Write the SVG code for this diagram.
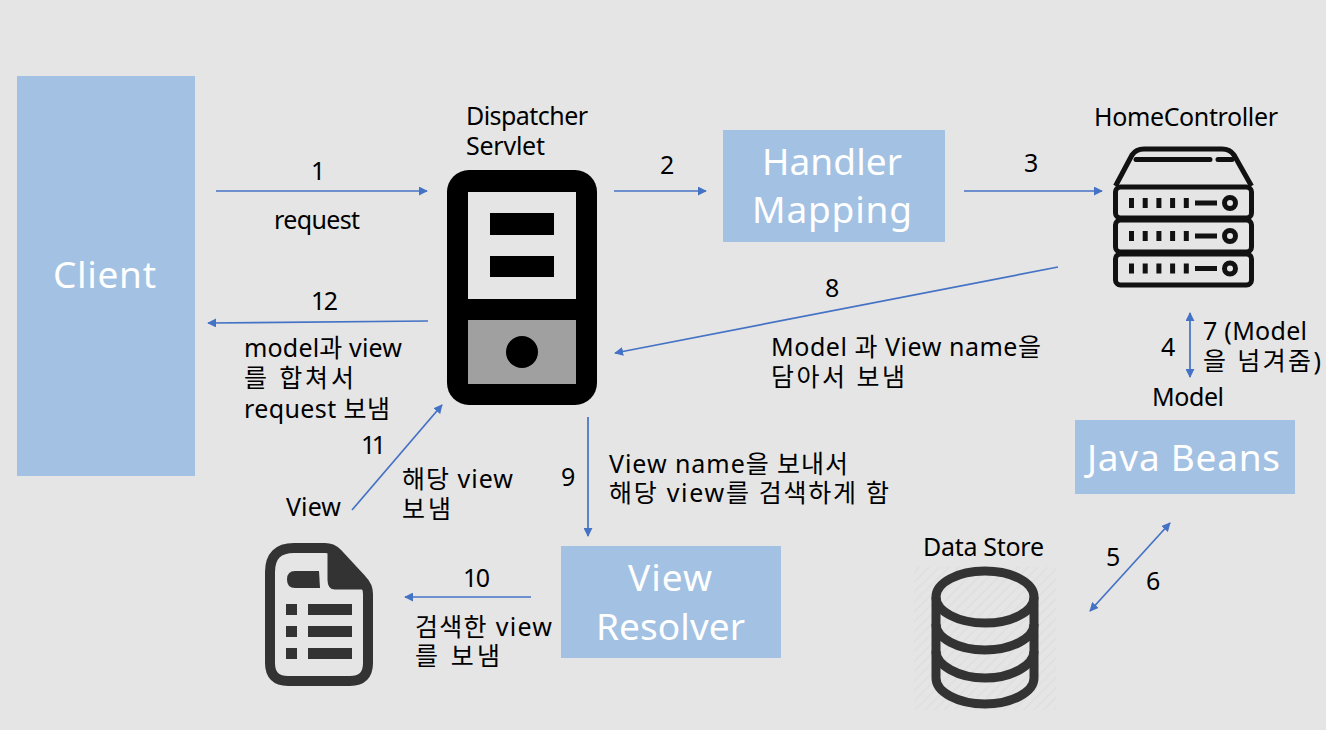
<svg xmlns="http://www.w3.org/2000/svg" width="1326" height="730" viewBox="0 0 1326 730">
<style>
text{font-family:"Noto Sans","Noto Sans CJK KR",sans-serif;fill:#000;font-size:25px}
.w{fill:#fff;font-size:37px}
.box{fill:#a3c2e3}
.c{stroke:#4472c4;stroke-width:1.7;fill:none;marker-end:url(#a)}
.b{marker-start:url(#as)}
.srv{fill:none;stroke:#111;stroke-width:5;stroke-linejoin:round}
.dots{stroke:#111;stroke-width:10;stroke-dasharray:5 8.7;fill:none}
.ln{stroke:#111;stroke-width:5;fill:none}
.db{fill:none;stroke:#333;stroke-width:9}
</style>
<defs>
<marker id="a" viewBox="0 0 10 10" refX="9" refY="5" markerWidth="9" markerHeight="9" markerUnits="userSpaceOnUse" orient="auto"><path d="M0 0L10 5L0 10z" fill="#4472c4"/></marker>
<marker id="as" viewBox="0 0 10 10" refX="1" refY="5" markerWidth="9" markerHeight="9" markerUnits="userSpaceOnUse" orient="auto"><path d="M10 0L0 5L10 10z" fill="#4472c4"/></marker>
<pattern id="h" width="7" height="7" patternUnits="userSpaceOnUse" patternTransform="rotate(45)"><rect width="7" height="7" fill="#e5e5e5"/><rect width="2" height="7" fill="#e0e0e0"/></pattern>
</defs>
<rect width="1326" height="730" fill="#e5e5e5"/>

<g id="client"><rect class="box" x="17" y="76" width="178" height="400"/><text class="w" x="53" y="288" textLength="103">Client</text></g>

<g id="dispatcher">
<text><tspan x="466" y="125" textLength="122">Dispatcher</tspan><tspan x="466" y="155" textLength="79">Servlet</tspan></text>
<rect x="447" y="170" width="150" height="235" rx="22" fill="#000"/>
<rect x="468" y="192" width="108" height="107" fill="#e5e5e5"/>
<rect x="490" y="213" width="64" height="22" fill="#000"/>
<rect x="490" y="256" width="64" height="21" fill="#000"/>
<rect x="468" y="320" width="108" height="64" fill="#a0a0a0"/>
<circle cx="522" cy="352" r="16" fill="#000"/>
</g>

<g id="handler"><rect class="box" x="723" y="130" width="222" height="112"/><text class="w"><tspan x="762" y="175" textLength="140">Handler</tspan><tspan x="752" y="223" textLength="160">Mapping</tspan></text></g>

<g id="home">
<text x="1094" y="126" textLength="184">HomeController</text>
<path class="srv" d="M1115.500 186L1132 155Q1136 149 1144 149H1222Q1230 149 1234 155L1251.500 186"/>
<path class="ln" d="M1136 159.500H1210M1218 159.500H1232" stroke-linecap="round"/>
<rect class="srv" x="1115.500" y="187" width="136" height="31" rx="5"/>
<rect class="srv" x="1115.500" y="220" width="136" height="32" rx="5"/>
<rect class="srv" x="1115.500" y="254" width="136" height="31" rx="5"/>
<path class="dots" d="M1129 203h60M1129 236h60M1129 268.500h60"/>
<path class="ln" d="M1195 203h22M1195 236h22M1195 268.500h22"/>
<circle class="srv" cx="1230" cy="203" r="5.500"/><circle class="srv" cx="1230" cy="236" r="5.500"/><circle class="srv" cx="1230" cy="268.500" r="5.500"/>
</g>

<g id="beans"><text x="1152" y="406" textLength="72">Model</text><rect class="box" x="1075" y="420" width="220" height="74"/><text class="w" x="1087" y="471" textLength="193">Java Beans</text></g>

<g id="resolver"><rect class="box" x="561" y="546" width="220" height="112"/><text class="w"><tspan x="628" y="591" textLength="84">View</tspan><tspan x="596" y="640" textLength="149">Resolver</tspan></text></g>

<g id="view">
<text x="286" y="516" textLength="55">View</text>
<path d="M270 572Q270 548 294 548H325Q332 548 337 553L362 580Q368 586 368 594V663Q368 681 350 681H288Q270 681 270 663Z" fill="none" stroke="#333" stroke-width="10" stroke-linejoin="round"/>
<path d="M329 548L368 588H335Q329 588 329 580Z" fill="#333" stroke="#333" stroke-width="3" stroke-linejoin="round"/>
<path d="M319 571H295Q287 571 287 579.500Q287 588 295 588H320Z" fill="#333"/>
<rect x="286" y="604" width="11" height="11" fill="#333"/><rect x="308" y="604" width="44" height="11" fill="#333"/>
<rect x="286" y="626" width="11" height="11" fill="#333"/><rect x="308" y="626" width="44" height="11" fill="#333"/>
<rect x="286" y="648" width="11" height="11" fill="#333"/><rect x="308" y="648" width="44" height="11" fill="#333"/>
</g>

<g id="datastore">
<text x="923" y="556" textLength="121">Data Store</text>
<rect x="914" y="567" width="142" height="143" fill="url(#h)"/>
<ellipse class="db" cx="985" cy="597" rx="49" ry="26"/>
<path class="db" d="M936 597V678C936 692 958 704 985 704S1034 692 1034 678V597"/>
<path class="db" d="M936 624C936 638 958 650 985 650S1034 638 1034 624M936 651C936 665 958 678 985 678S1034 665 1034 651"/>
</g>

<g id="connectors">
<path class="c" d="M216 191H427"/>
<path class="c" d="M614 191H706"/>
<path class="c" d="M964 191H1102"/>
<path class="c" d="M1058 267L615 353"/>
<path class="c" d="M428 321L208 323"/>
<path class="c b" d="M1190 313V377"/>
<path class="c b" d="M1170 523L1090 611"/>
<path class="c" d="M588 417V536"/>
<path class="c" d="M531 597H405"/>
<path class="c" d="M352 510L442 405"/>
</g>

<g id="labels">
<text x="311" y="180">1</text>
<text x="274" y="229" textLength="86">request</text>
<text x="660" y="174">2</text>
<text x="1024" y="172">3</text>
<text x="825" y="297">8</text>
<text><tspan x="771" y="356" textLength="270">Model 과 View name을</tspan><tspan x="771" y="386" textLength="134">담아서 보냄</tspan></text>
<text x="311" y="310" textLength="27">12</text>
<text><tspan x="244" y="357" textLength="158">model과 view</tspan><tspan x="244" y="387" textLength="110">를 합쳐서</tspan><tspan x="244" y="418" textLength="146">request 보냄</tspan></text>
<text x="1161" y="356">4</text>
<text><tspan x="1203" y="340" textLength="104">7 (Model</tspan><tspan x="1203" y="370" textLength="118">을 넘겨줌)</tspan></text>
<text x="361" y="454" textLength="25">11</text>
<text><tspan x="402" y="488" textLength="111">해당 view</tspan><tspan x="402" y="518" textLength="49">보냄</tspan></text>
<text x="561" y="486">9</text>
<text><tspan x="609" y="473" textLength="239">View name을 보내서</tspan><tspan x="609" y="502" textLength="280">해당 view를 검색하게 함</tspan></text>
<text x="463" y="587" textLength="27">10</text>
<text><tspan x="415" y="636" textLength="137">검색한 view</tspan><tspan x="415" y="665" textLength="85">를 보냄</tspan></text>
<text x="1106" y="566">5</text>
<text x="1146" y="590">6</text>
</g>
</svg>
